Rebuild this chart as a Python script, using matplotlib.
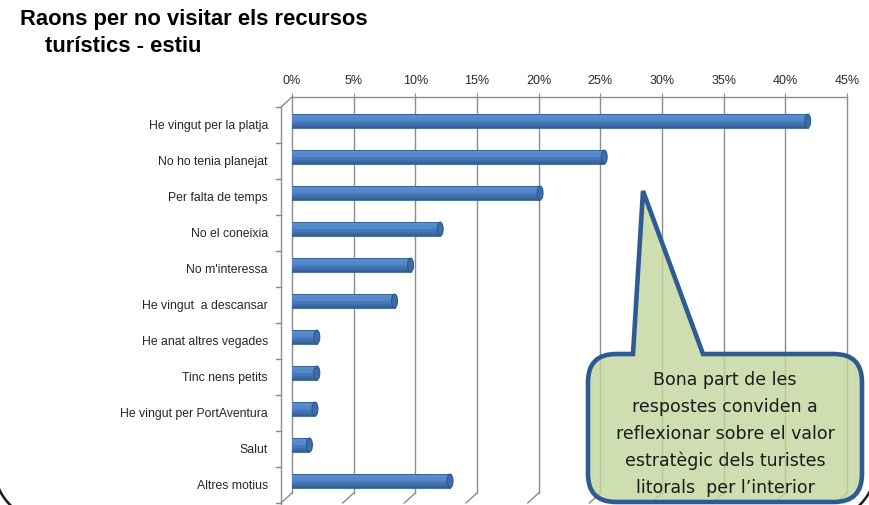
import numpy as np
import matplotlib
matplotlib.use("Agg")
import matplotlib.pyplot as plt
from matplotlib.transforms import ScaledTranslation, Affine2D
from matplotlib.patches import Ellipse, PathPatch
from matplotlib.path import Path
from matplotlib.colors import to_rgb

plt.rcParams['font.family'] = ['Liberation Sans', 'DejaVu Sans']

# ---------------- data ----------------
categories = [
    "He vingut per la platja",
    "No ho tenia planejat",
    "Per falta de temps",
    "No el coneixia",
    "No m'interessa",
    "He vingut  a descansar",
    "He anat altres vegades",
    "Tinc nens petits",
    "He vingut per PortAventura",
    "Salut",
    "Altres motius",
]
values = [42.3, 25.8, 20.6, 12.5, 10.1, 8.8, 2.5, 2.5, 2.35, 1.9, 13.3]
xticks = [0, 5, 10, 15, 20, 25, 30, 35, 40, 45]
xticklabels = [f"{t}%" for t in xticks]
title_lines = ["Raons per no visitar els recursos", "turístics - estiu"]
note = ("Bona part de les\nrespostes conviden a\nreflexionar sobre el valor\n"
        "estratègic dels turistes\nlitorals  per l\u2019interior")

W, H = 869, 506
fig = plt.figure(figsize=(W / 100, H / 100), dpi=100)
# pixel transform (origin top-left)
px = Affine2D().scale(1 / W, -1 / H).translate(0, 1) + fig.transFigure

x0p, x1p, topp = 292, 847, 98
ax = fig.add_axes([x0p / W, 0, (x1p - x0p) / W, (H - topp) / H])
ax.set_xlim(0, 45)
ppp = (x1p - x0p) / 45.0   # pixels per percent
ppc = 36.0                 # pixels per category
ybot = -0.5 + (H - topp) / ppc
ax.set_ylim(ybot, -0.5)
for s in ax.spines.values():
    s.set_visible(False)
ax.set_yticks([])
ax.xaxis.tick_top()
ax.set_xticks(xticks)
ax.set_xticklabels(xticklabels)
ax.tick_params(axis='x', length=3, width=0.8, color='#8c8c8c', pad=5,
               labelsize=9, labelcolor='#2a2a2a')
ax.patch.set_alpha(0)

n = len(categories)
depth_dx = -11 / ppp
depth_dy = 10 / ppc
grid_c = '#8c8c8c'
for t in xticks:
    ax.plot([t, t], [-0.5, n - 0.5], color=grid_c, lw=1.0, zorder=1, clip_on=False)
    ax.plot([t, t + depth_dx], [n - 0.5, n - 0.5 + depth_dy], color=grid_c, lw=1.0,
            zorder=1, clip_on=False)
ax.plot([0, 45], [-0.5, -0.5], color=grid_c, lw=1.0, zorder=1, clip_on=False)
ax.plot([0, depth_dx], [-0.5, -0.5 + depth_dy], color=grid_c, lw=1.0, clip_on=False)
ax.plot([depth_dx, depth_dx], [-0.5 + depth_dy, ybot], color=grid_c, lw=1.0, clip_on=False)
for k in range(n + 1):
    yk = -0.5 + depth_dy + k
    ax.plot([depth_dx, depth_dx - 5 / ppp], [yk, yk], color=grid_c, lw=1.0, clip_on=False)

# bars (cylinder look), shifted to mid-depth
btr = ax.transData + ScaledTranslation(-6 / 100, -6 / 100, fig.dpi_scale_trans)
bh = 14 / ppc
capw = 6 / ppp
stops = [(0.0, '#76a2da'), (0.15, '#5a8fcf'), (0.45, '#4f84c5'),
         (0.75, '#416fac'), (1.0, '#2d5b92')]
nstrip = 10


def grad(f):
    for (a, ca), (b, cb) in zip(stops[:-1], stops[1:]):
        if a <= f <= b:
            u = (f - a) / (b - a)
            A, B = np.array(to_rgb(ca)), np.array(to_rgb(cb))
            return tuple(A + (B - A) * u)
    return to_rgb(stops[-1][1])


for i, v in enumerate(values):
    ax.add_patch(Ellipse((0, i), capw, bh, facecolor='#4a7ebe', edgecolor='#2d5a8c',
                         lw=0.7, transform=btr, zorder=2.9))
    for s in range(nstrip):
        f = (s + 0.5) / nstrip
        yc = i - bh / 2 + (s + 0.5) * bh / nstrip
        ax.barh(yc, v, height=bh / nstrip * 1.05, color=grad(f), lw=0,
                transform=btr, zorder=3)
    ax.barh(i, v, height=bh, fill=False, edgecolor='#2d5a8c', lw=0.6,
            transform=btr, zorder=3.1)
    ax.add_patch(Ellipse((v, i), capw, bh, facecolor='#3d6ca6', edgecolor='#2a5588',
                         lw=0.7, transform=btr, zorder=3.2))

# category labels on front plane
ltr = ax.transData + ScaledTranslation(-24 / 100, -10 / 100, fig.dpi_scale_trans)
for i, c in enumerate(categories):
    ax.text(0, i, c, transform=ltr, ha='right', va='center', fontsize=8.8,
            color='#262626')

# title
fig.text(20, 20, title_lines[0], transform=px, ha='left', va='center',
         fontsize=15.8, fontweight='bold', color='black')
fig.text(45, 47, title_lines[1], transform=px, ha='left', va='center',
         fontsize=15.8, fontweight='bold', color='black')

# slide frame (rounded bottom corners)
r_f, lf, rf, bf = 55, -6, 876, 522
th1 = np.linspace(np.pi, np.pi / 2, 24)
th2 = np.linspace(np.pi / 2, 0, 24)
fx = np.concatenate([[lf], lf + r_f + r_f * np.cos(th1), rf - r_f + r_f * np.cos(th2), [rf]])
fy = np.concatenate([[-10], bf - r_f + r_f * np.sin(th1), bf - r_f + r_f * np.sin(th2), [-10]])
fig.lines.append(plt.Line2D(fx, fy, transform=px, color='#1a1a1a', lw=1.8))

# callout bubble
L, R, T, B, r = 588, 862, 355, 503, 28
verts = [(L + r, T), (633, T), (643, 192), (703, T), (R - r, T),
         (R, T), (R, T + r), (R, B - r), (R, B), (R - r, B), (L + r, B),
         (L, B), (L, B - r), (L, T + r), (L, T), (L + r, T), (L + r, T)]
codes = [Path.MOVETO, Path.LINETO, Path.LINETO, Path.LINETO, Path.LINETO,
         Path.CURVE3, Path.CURVE3, Path.LINETO, Path.CURVE3, Path.CURVE3, Path.LINETO,
         Path.CURVE3, Path.CURVE3, Path.LINETO, Path.CURVE3, Path.CURVE3, Path.CLOSEPOLY]
bubble = PathPatch(Path(verts, codes), transform=px,
                   facecolor=(0.77, 0.84, 0.61, 0.8), edgecolor='#2e5b93', lw=3.3,
                   joinstyle='miter', zorder=10)
fig.patches.append(bubble)
fig.text(725, 434, note, transform=px, ha='center', va='center', fontsize=12.5,
         linespacing=1.62, color='#1a1a1a', zorder=11,
         family=['DejaVu Sans'])

fig.savefig("out.png", dpi=100)
